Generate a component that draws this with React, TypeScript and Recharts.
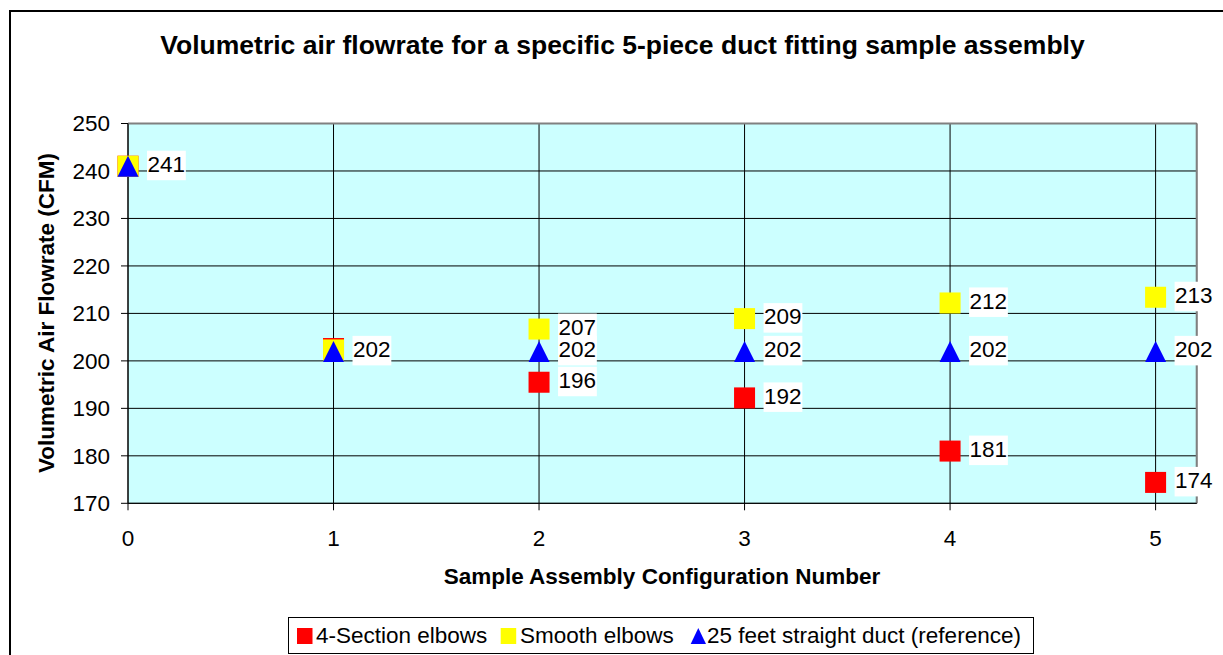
import React from 'react';
import {
  ScatterChart,
  Scatter,
  XAxis,
  YAxis,
  CartesianGrid,
  ReferenceLine,
  LabelList,
} from 'recharts';

// ---------- data ----------
const configurations = [0, 1, 2, 3, 4, 5];
const fourSectionElbows = [241, 202.6, 195.5, 192.2, 181.0, 174.4];
const fourSectionLabels = ['', '', '196', '192', '181', '174'];
const smoothElbows = [241, 202.3, 206.7, 208.9, 212.2, 213.4];
const smoothLabels = ['', '', '207', '209', '212', '213'];
const straightDuct = [241, 202, 202, 202, 202, 202];
const straightLabels = ['241', '202', '202', '202', '202', '202'];
const xTicks = [0, 1, 2, 3, 4, 5];
const yTicks = [170, 180, 190, 200, 210, 220, 230, 240, 250];

const seriesNames = ['4-Section elbows', 'Smooth elbows', '25 feet straight duct (reference)'];
const titleText = 'Volumetric air flowrate for a specific 5-piece duct fitting sample assembly';
const xTitle = 'Sample Assembly Configuration Number';
const yTitle = 'Volumetric Air Flowrate (CFM)';

const build = (vals: number[], labels: string[]) =>
  configurations.map((x, i) => ({ x, y: vals[i], label: labels[i] }));

const redData = build(fourSectionElbows, fourSectionLabels);
const yellowData = build(smoothElbows, smoothLabels);
const blueData = build(straightDuct, straightLabels);

// ---------- styling ----------
const FONT = '"Liberation Sans", Arial, Helvetica, sans-serif';
const RED = '#FF0000';
const YELLOW = '#FFFF00';
const BLUE = '#0000FF';
const M = 10.5;

const square = (fill: string) => (props: any) => {
  const { cx, cy } = props;
  if (cx == null || cy == null) return <g />;
  return <rect x={cx - M} y={cy - M} width={2 * M} height={2 * M} fill={fill} />;
};

const triangle = (fill: string) => (props: any) => {
  const { cx, cy } = props;
  if (cx == null || cy == null) return <g />;
  return (
    <polygon
      points={`${cx},${cy - M} ${cx + M},${cy + M} ${cx - M},${cy + M}`}
      fill={fill}
    />
  );
};

const renderValueLabel = (props: any) => {
  const { value } = props;
  if (!value) return null;
  const vb = props.viewBox && props.viewBox.x != null ? props.viewBox : props;
  const cx = vb.x + (vb.width || 0) / 2;
  const cy = vb.y + (vb.height || 0) / 2;
  const w = String(value).length * 12.6 + 1;
  return (
    <g>
      <rect x={cx + 19} y={cy - 15.5} width={w} height={29.5} fill="#FFFFFF" />
      <text
        x={cx + 19.5}
        y={cy + 5.8}
        fontSize={22.5}
        fontFamily={FONT}
        fill="#000"
      >
        {value}
      </text>
    </g>
  );
};

const tickStyle = { fontSize: 22.5, fontFamily: FONT, fill: '#000' };

export default function App() {
  return (
    <div
      style={{
        position: 'absolute',
        left: 0,
        top: 0,
        width: 1223,
        height: 655,
        background: '#fff',
        overflow: 'hidden',
        fontFamily: FONT,
      }}
    >
      {/* outer chart-area border (clipped) */}
      <div
        style={{
          position: 'absolute',
          left: 9,
          top: 10,
          width: 1214,
          height: 645,
          borderLeft: '2px solid #000',
          borderTop: '2px solid #000',
          boxSizing: 'border-box',
        }}
      />
      {/* title */}
      <div
        style={{
          position: 'absolute',
          left: 0,
          width: 1245,
          top: 29,
          textAlign: 'center',
          fontWeight: 'bold',
          fontSize: 26.5,
          lineHeight: '32px',
          color: '#000',
        }}
      >
        {titleText}
      </div>

      <div style={{ position: 'absolute', left: 0, top: 0 }}>
        <ScatterChart
          width={1223}
          height={655}
          margin={{ top: 123.5, right: 26.3, bottom: 91.7, left: 0 }}
        >
          <CartesianGrid
            stroke="#000"
            strokeWidth={1}
            fill="#CCFFFF"
            fillOpacity={1}
          />
          <XAxis
            type="number"
            dataKey="x"
            domain={[0, 5.2]}
            ticks={xTicks}
            height={60}
            tickSize={7}
            tickMargin={20}
            tick={tickStyle}
            axisLine={{ stroke: '#000', strokeWidth: 1 }}
            tickLine={{ stroke: '#000', strokeWidth: 1 }}
          />
          <YAxis
            type="number"
            dataKey="y"
            domain={[170, 250]}
            ticks={yTicks}
            width={128}
            tickSize={7}
            tickMargin={11}
            tick={tickStyle}
            axisLine={{ stroke: '#000', strokeWidth: 1 }}
            tickLine={{ stroke: '#000', strokeWidth: 1 }}
          />
          <ReferenceLine y={250} stroke="#808080" strokeWidth={2} ifOverflow="visible" />
          <ReferenceLine x={5.2} stroke="#808080" strokeWidth={2} ifOverflow="visible" />
          <Scatter
            name={seriesNames[0]}
            data={redData}
            fill={RED}
            shape={square(RED)}
            isAnimationActive={false}
          >
            <LabelList dataKey="label" content={renderValueLabel} />
          </Scatter>
          <Scatter
            name={seriesNames[1]}
            data={yellowData}
            fill={YELLOW}
            shape={square(YELLOW)}
            isAnimationActive={false}
          >
            <LabelList dataKey="label" content={renderValueLabel} />
          </Scatter>
          <Scatter
            name={seriesNames[2]}
            data={blueData}
            fill={BLUE}
            shape={triangle(BLUE)}
            isAnimationActive={false}
          >
            <LabelList dataKey="label" content={renderValueLabel} />
          </Scatter>
        </ScatterChart>
      </div>

      {/* y axis title */}
      <div
        style={{
          position: 'absolute',
          left: 47 - 200,
          top: 313 - 14,
          width: 400,
          height: 28,
          lineHeight: '28px',
          textAlign: 'center',
          fontWeight: 'bold',
          fontSize: 22.5,
          transform: 'rotate(-90deg)',
          color: '#000',
        }}
      >
        {yTitle}
      </div>
      {/* x axis title */}
      <div
        style={{
          position: 'absolute',
          left: 662 - 300,
          top: 577 - 14,
          width: 600,
          height: 28,
          lineHeight: '28px',
          textAlign: 'center',
          fontWeight: 'bold',
          fontSize: 22.5,
          color: '#000',
        }}
      >
        {xTitle}
      </div>

      {/* legend */}
      <div
        style={{
          position: 'absolute',
          left: 288,
          top: 617,
          width: 746,
          height: 37,
          border: '1px solid #000',
          boxSizing: 'border-box',
          background: '#fff',
          fontSize: 22.5,
          color: '#000',
        }}
      >
        <svg
          width={746}
          height={37}
          style={{ position: 'absolute', left: -1, top: -1 }}
        >
          <rect x={297 - 288} y={628 - 617} width={15.5} height={16} fill={RED} />
          <rect x={500.7 - 288} y={628 - 617} width={15.5} height={16} fill={YELLOW} />
          <polygon
            points={`${698.3 - 288},${628 - 617} ${706 - 288},${644 - 617} ${690.7 - 288},${644 - 617}`}
            fill={BLUE}
          />
        </svg>
        {[
          { left: 316, text: seriesNames[0] },
          { left: 520, text: seriesNames[1] },
          { left: 707, text: seriesNames[2] },
        ].map((it) => (
          <span
            key={it.text}
            style={{
              position: 'absolute',
              left: it.left - 289,
              top: 0,
              lineHeight: '35px',
              whiteSpace: 'nowrap',
            }}
          >
            {it.text}
          </span>
        ))}
      </div>
    </div>
  );
}
